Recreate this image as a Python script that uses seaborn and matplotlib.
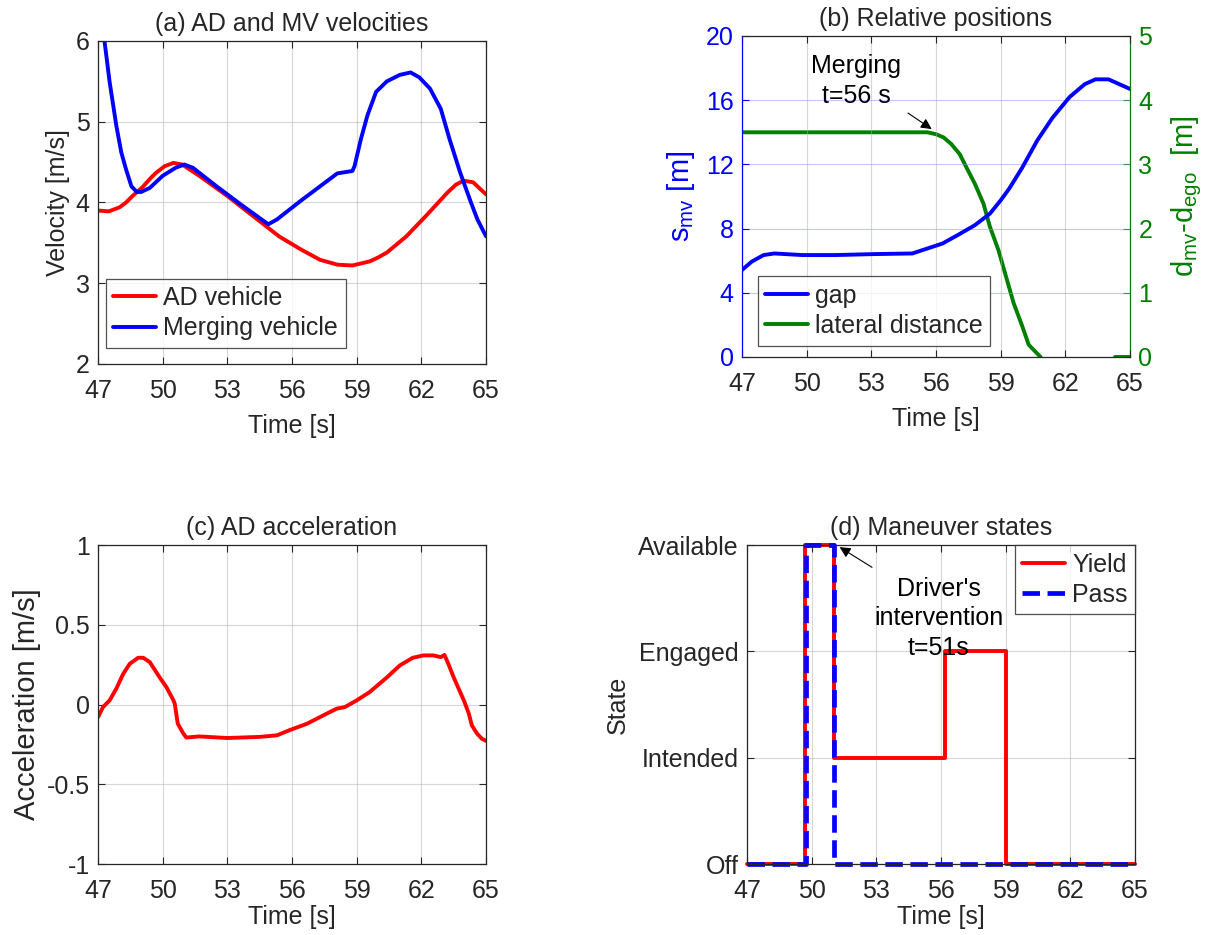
import matplotlib
matplotlib.use('Agg')
import matplotlib.pyplot as plt
import pandas as pd
import seaborn as sns

# (a) velocities
ad_t = [47.0, 47.5, 48.0, 48.3, 48.6, 49.1, 49.4, 49.7, 50.1, 50.5, 50.9, 51.7, 53.0,
        54.2, 55.4, 56.4, 57.3, 58.1, 58.8, 59.6, 60.0, 60.4, 61.3, 62.2, 63.2, 63.6,
        63.95, 64.4, 65.0]
ad_v = [3.90, 3.89, 3.94, 4.00, 4.08, 4.20, 4.29, 4.37, 4.45, 4.49, 4.47, 4.33, 4.08,
        3.83, 3.58, 3.42, 3.29, 3.23, 3.22, 3.27, 3.32, 3.38, 3.58, 3.83, 4.12, 4.22,
        4.27, 4.25, 4.10]
mv_t = [47.0, 47.3, 47.54, 47.85, 48.08, 48.3, 48.55, 48.8, 49.0, 49.4, 50.0, 50.6, 51.0,
        51.4, 52.5, 53.6, 54.9, 55.3, 56.4, 57.3, 58.1, 58.8, 58.9, 59.2, 59.5, 59.9,
        60.4, 61.0, 61.5, 61.9, 62.4, 62.9, 63.3, 63.8, 64.3, 64.6, 65.0]
mv_v = [6.9, 6.0, 5.49, 4.95, 4.62, 4.41, 4.20, 4.13, 4.13, 4.18, 4.33, 4.43, 4.47,
        4.43, 4.20, 3.98, 3.73, 3.79, 4.02, 4.20, 4.36, 4.39, 4.45, 4.79, 5.08, 5.37,
        5.50, 5.58, 5.61, 5.55, 5.41, 5.16, 4.79, 4.37, 4.00, 3.79, 3.58]

# (b) relative positions
gap_t = [47.0, 47.45, 48.0, 48.5, 49.8, 51.3, 53.1, 54.9, 55.6, 56.3, 57.0, 57.8, 58.5,
         59.0, 59.4, 60.0, 60.7, 61.4, 62.2, 62.9, 63.4, 64.0, 64.5, 65.0]
gap_s = [5.42, 5.94, 6.35, 6.45, 6.35, 6.35, 6.41, 6.45, 6.76, 7.07, 7.59, 8.21, 8.93,
         9.76, 10.5, 11.8, 13.5, 14.9, 16.2, 17.0, 17.3, 17.3, 17.0, 16.7]
lat_t = [47.0, 55.6, 56.0, 56.35, 56.7, 57.1, 57.4, 57.8, 58.2, 58.5, 58.9, 59.25, 59.6,
         60.0, 60.3, 60.85, 64.3, 65.0]
lat_d = [3.5, 3.5, 3.47, 3.42, 3.32, 3.16, 2.96, 2.70, 2.39, 2.03, 1.66, 1.25, 0.84,
         0.48, 0.19, 0.0, 0.0, 0.0]
lat_seg = [0] * 16 + [1, 1]

# (c) AD acceleration
acc_t = [47.0, 47.23, 47.54, 47.85, 48.16, 48.47, 48.86, 49.1, 49.4, 49.86, 50.17, 50.5,
         50.56, 50.7, 50.95, 51.1, 51.7, 53.0, 54.5, 55.3, 55.9, 56.7, 57.45, 58.07,
         58.45, 59.0, 59.6, 60.4, 61.0, 61.6, 62.1, 62.56, 62.9, 63.07, 63.25, 63.5,
         63.8, 64.0, 64.2, 64.34, 64.57, 64.8, 65.0]
acc_a = [-0.08, -0.016, 0.026, 0.10, 0.19, 0.255, 0.293, 0.293, 0.266, 0.17, 0.11, 0.026,
         0.005, -0.12, -0.18, -0.207, -0.20, -0.21, -0.203, -0.193, -0.16, -0.12, -0.068,
         -0.026, -0.016, 0.026, 0.078, 0.17, 0.245, 0.293, 0.308, 0.308, 0.297, 0.311,
         0.255, 0.17, 0.078, 0.016, -0.057, -0.13, -0.18, -0.214, -0.228]

# (d) maneuver states (0 Off, 1 Intended, 2 Engaged, 3 Available)
yield_t = [47.0, 49.7, 51.05, 56.2, 59.0, 65.0]
yield_s = [0, 3, 1, 2, 0, 0]
pass_t = [47.0, 49.72, 51.03, 65.0]
pass_s = [0, 3, 0, 0]
state_labels = ['Off', 'Intended', 'Engaged', 'Available']
time_ticks = [47, 50, 53, 56, 59, 62, 65]

sns.set_theme(style='ticks')
plt.rcParams['font.family'] = ['Liberation Sans', 'DejaVu Sans']
plt.rcParams['mathtext.fontset'] = 'custom'
plt.rcParams['mathtext.rm'] = 'Liberation Sans'
plt.rcParams['mathtext.it'] = 'Liberation Sans'

TXT = '#262626'
FS = 18
LW = 2.8


def style_axes(ax, grid_y='#b0b0b0', xpad=8):
    ax.set_xlim(47, 65)
    ax.set_xticks(time_ticks)
    ax.tick_params(direction='in', length=5, width=0.8, labelsize=FS, colors=TXT,
                   top=True, right=True, pad=6)
    ax.tick_params(axis='x', pad=11)
    for s in ax.spines.values():
        s.set_color(TXT)
        s.set_linewidth(0.9)
    ax.grid(True, axis='x', color='#b0b0b0', alpha=0.5, linewidth=0.8)
    ax.grid(True, axis='y', color=grid_y, alpha=0.5, linewidth=0.8)
    ax.set_axisbelow(True)
    ax.set_xlabel('Time [s]', fontsize=FS, color=TXT, labelpad=xpad)


def add_legend(ax, handles=None, labels=None, **kw):
    if handles is None:
        handles, labels = ax.get_legend_handles_labels()
    leg = ax.legend(handles, labels, fontsize=FS, frameon=True, fancybox=False,
                    edgecolor=TXT, handlelength=1.7, handletextpad=0.3,
                    borderpad=0.3, labelspacing=0.25, borderaxespad=0, **kw)
    leg.get_frame().set_linewidth(0.9)
    return leg


fig = plt.figure(figsize=(12.13, 9.35), dpi=100)
ax1 = fig.add_axes([0.0808, 0.6107, 0.3199, 0.3455])
ax2 = fig.add_axes([0.6117, 0.6182, 0.3199, 0.3433])
ax3 = fig.add_axes([0.0808, 0.0759, 0.3199, 0.3412])
ax4 = fig.add_axes([0.6158, 0.0759, 0.3199, 0.3412])

# (a)
sns.lineplot(x=ad_t, y=ad_v, ax=ax1, color='red', lw=LW, label='AD vehicle',
             estimator=None, sort=False)
sns.lineplot(x=mv_t, y=mv_v, ax=ax1, color='blue', lw=LW, label='Merging vehicle',
             estimator=None, sort=False)
style_axes(ax1)
ax1.set_ylim(2, 6)
ax1.set_yticks([2, 3, 4, 5, 6])
ax1.set_ylabel('Velocity [m/s]', fontsize=FS, color=TXT, labelpad=4)
ax1.set_title('(a) AD and MV velocities', fontsize=FS, color=TXT, pad=7)
add_legend(ax1, loc='lower left', bbox_to_anchor=(0.02, 0.05))

# (b)
sns.lineplot(x=gap_t, y=gap_s, ax=ax2, color='blue', lw=LW, label='gap',
             estimator=None, sort=False)
ax2r = ax2.twinx()
lat_df = pd.DataFrame({'t': lat_t, 'd': lat_d, 'seg': lat_seg})
sns.lineplot(data=lat_df, x='t', y='d', units='seg', estimator=None, sort=False,
             ax=ax2r, color='green', lw=LW, label='lateral distance')
style_axes(ax2, grid_y='#9090ff')
ax2.set_ylim(0, 20)
ax2.set_yticks([0, 4, 8, 12, 16, 20])
ax2r.set_ylim(0, 5)
ax2r.set_yticks([0, 1, 2, 3, 4, 5])
ax2.tick_params(axis='y', colors='blue', right=False)
ax2r.tick_params(axis='y', direction='in', length=5, width=0.8, labelsize=FS,
                 colors='green', pad=6)
ax2.spines['left'].set_color('blue')
ax2r.spines['left'].set_visible(False)
ax2r.spines['right'].set_color('green')
ax2r.spines['right'].set_linewidth(0.9)
ax2r.spines['top'].set_visible(False)
ax2r.spines['bottom'].set_visible(False)
ax2.spines['right'].set_visible(False)
ax2.set_ylabel('s$_{mv}$ [m]', fontsize=FS + 3, color='blue', labelpad=6)
ax2r.set_ylabel('d$_{mv}$-d$_{ego}$  [m]', fontsize=FS + 3, color='green', labelpad=12)
ax2r.set_xlabel('')
ax2.set_title('(b) Relative positions', fontsize=FS, color=TXT, pad=7)
ax2.text(52.3, 17.2, 'Merging\nt=56 s', fontsize=FS, color='black', ha='center',
         va='center', linespacing=1.3)
ax2.annotate('', xy=(55.8, 14.2), xytext=(54.7, 15.2),
             arrowprops=dict(arrowstyle='-|>', color='black', lw=0.8,
                             shrinkA=0, shrinkB=0, mutation_scale=16))
h1, l1 = ax2.get_legend_handles_labels()
h2, l2 = ax2r.get_legend_handles_labels()
if ax2r.get_legend() is not None:
    ax2r.get_legend().remove()
add_legend(ax2, h1 + h2[:1], l1 + l2[:1], loc='lower left',
           bbox_to_anchor=(0.04, 0.035))
ax2.set_zorder(ax2r.get_zorder() + 1)
ax2.patch.set_visible(False)

# (c)
sns.lineplot(x=acc_t, y=acc_a, ax=ax3, color='red', lw=LW, estimator=None, sort=False)
style_axes(ax3, xpad=1)
ax3.set_ylim(-1, 1)
ax3.set_yticks([-1, -0.5, 0, 0.5, 1])
ax3.set_yticklabels(['-1', '-0.5', '0', '0.5', '1'])
ax3.set_ylabel('Acceleration [m/s]', fontsize=FS + 3, color=TXT, labelpad=4)
ax3.set_title('(c) AD acceleration', fontsize=FS, color=TXT, pad=7)

# (d)
sns.lineplot(x=yield_t, y=yield_s, ax=ax4, color='red', lw=LW, label='Yield',
             drawstyle='steps-post', estimator=None, sort=False, clip_on=False)
sns.lineplot(x=pass_t, y=pass_s, ax=ax4, color='blue', lw=LW + 0.6, label='Pass',
             drawstyle='steps-post', linestyle='--', dashes=(3.5, 2.2),
             estimator=None, sort=False, clip_on=False)
style_axes(ax4, xpad=1)
ax4.set_ylim(0, 3)
ax4.set_yticks([0, 1, 2, 3])
ax4.set_yticklabels(state_labels)
ax4.set_ylabel('State', fontsize=FS, color=TXT, labelpad=6)
ax4.set_title('(d) Maneuver states', fontsize=FS, color=TXT, pad=7)
ax4.text(55.9, 2.31, "Driver's\nintervention\nt=51s", fontsize=FS, color='black',
         ha='center', va='center', linespacing=1.3)
ax4.annotate('', xy=(51.3, 2.98), xytext=(52.8, 2.79),
             arrowprops=dict(arrowstyle='-|>', color='black', lw=0.8,
                             shrinkA=0, shrinkB=0, mutation_scale=16))
add_legend(ax4, loc='upper right')

fig.savefig('out.png', dpi=100)
